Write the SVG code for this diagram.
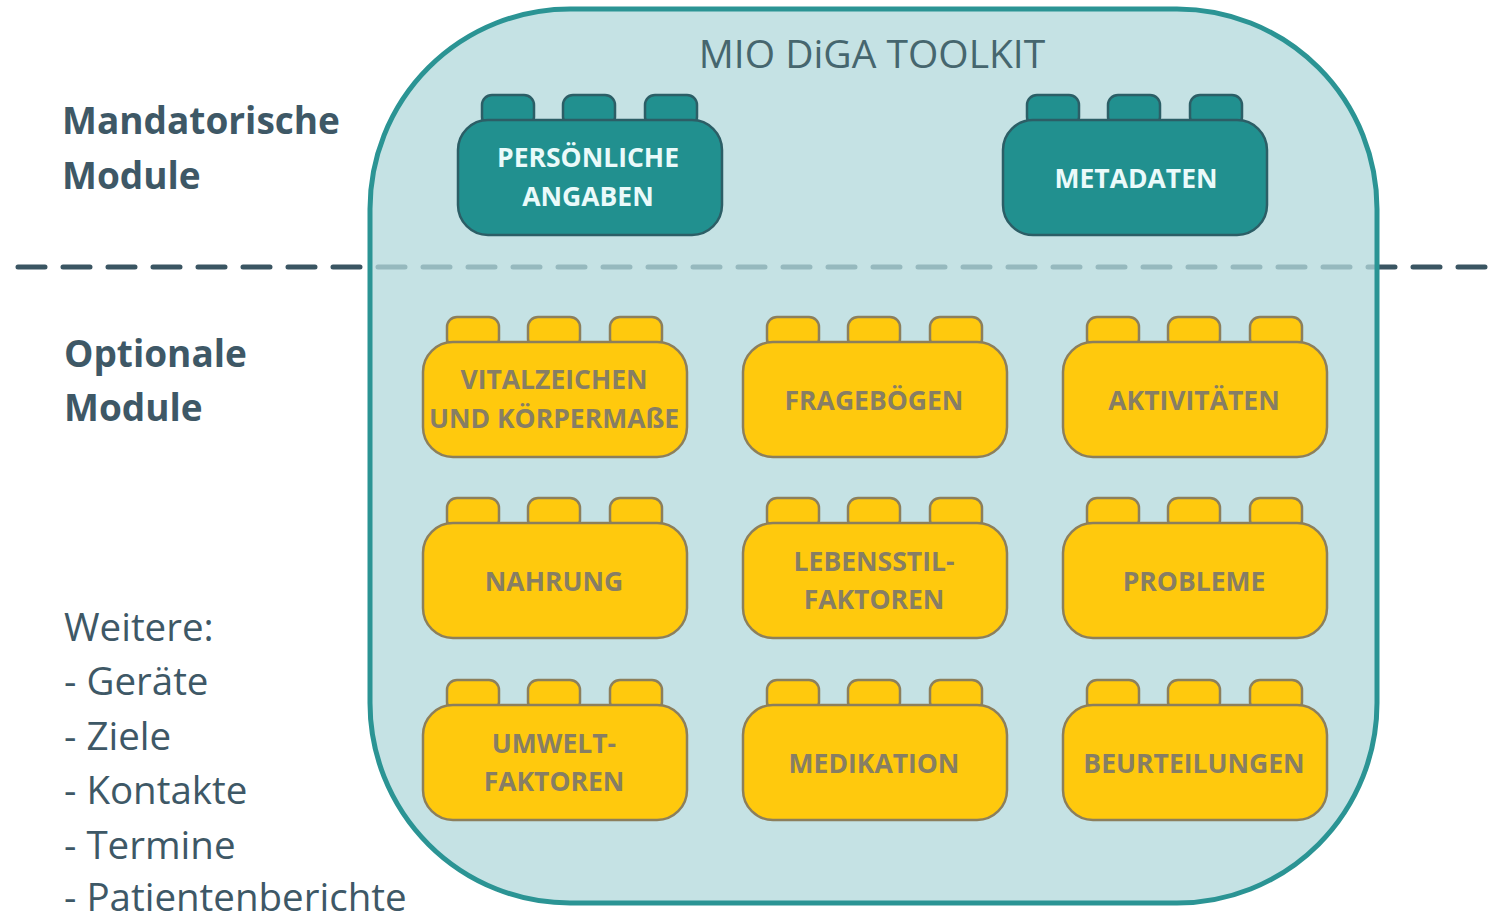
<svg xmlns="http://www.w3.org/2000/svg" xmlns:xlink="http://www.w3.org/1999/xlink" width="1491" height="917" viewBox="0 0 1491 917">
  <style>
    .lbl { font-family: "Open Sans", "Liberation Sans", sans-serif; fill: #3e5866; }
    .lbl-b { font-weight: 700; font-size: 37px; }
    .lbl-r { font-weight: 400; font-size: 38.5px; }
    .title { font-family: "Open Sans", "Liberation Sans", sans-serif; font-size: 39px; fill: #46666e; text-anchor: middle; }
    .brick-t { fill: #21908f; stroke: #2c5e66; stroke-width: 2.5; }
    .brick-y { fill: #ffc90d; stroke: #8c7f5c; stroke-width: 2.5; }
    .txt { font-family: "Open Sans", "Liberation Sans", sans-serif; font-weight: 700; font-size: 26.5px; text-anchor: middle; }
    .txt-t { fill: #eafafa; }
    .txt-y { fill: #877e64; }
    .divider { fill: none; stroke: #3a5562; stroke-width: 5; stroke-dasharray: 27 18; stroke-linecap: round; }
  </style>
  <defs>
    <!-- building block: three studs on top of a rounded body, origin at body top-left -->
    <g id="brick">
      <rect x="24" y="-25" width="52" height="32" rx="10"/>
      <rect x="105" y="-25" width="52" height="32" rx="10"/>
      <rect x="187" y="-25" width="52" height="32" rx="10"/>
      <rect x="0" y="0" width="264" height="115" rx="30"/>
    </g>
  </defs>

  <rect width="1491" height="917" fill="#ffffff"/>

  <!-- section divider between mandatory and optional modules -->
  <g id="connectors">
    <line class="divider" x1="18" y1="267" x2="1491" y2="267"/>
  </g>

  <!-- toolkit container -->
  <g id="toolkit">
    <rect x="370" y="9" width="1007" height="894" rx="200" fill="#b3d9dc" fill-opacity="0.76" stroke="#2b9494" stroke-width="5"/>
    <text class="title" x="872" y="68">MIO DiGA TOOLKIT</text>
  </g>

  <!-- side labels -->
  <g id="label-mandatory" class="lbl lbl-b">
    <text x="62" y="134">Mandatorische</text>
    <text x="62" y="189">Module</text>
  </g>
  <g id="label-optional" class="lbl lbl-b">
    <text x="64" y="367">Optionale</text>
    <text x="64" y="421">Module</text>
  </g>
  <g id="label-further" class="lbl lbl-r">
    <text x="64" y="641">Weitere:</text>
    <text x="64" y="695">- Geräte</text>
    <text x="64" y="750">- Ziele</text>
    <text x="64" y="804">- Kontakte</text>
    <text x="64" y="859">- Termine</text>
    <text x="64" y="911">- Patientenberichte</text>
  </g>

  <!-- mandatory modules -->
  <g id="persoenliche-angaben" transform="translate(458,120)">
    <use href="#brick" xlink:href="#brick" class="brick-t"/>
    <text class="txt txt-t" x="130" y="47">PERSÖNLICHE</text>
    <text class="txt txt-t" x="130" y="86">ANGABEN</text>
  </g>
  <g id="metadaten" transform="translate(1003,120)">
    <use href="#brick" xlink:href="#brick" class="brick-t"/>
    <text class="txt txt-t" x="133" y="68">METADATEN</text>
  </g>

  <!-- optional modules, row 1 -->
  <g id="vitalzeichen" transform="translate(423,342)">
    <use href="#brick" xlink:href="#brick" class="brick-y"/>
    <text class="txt txt-y" x="131" y="47">VITALZEICHEN</text>
    <text class="txt txt-y" x="131" y="86">UND KÖRPERMAßE</text>
  </g>
  <g id="frageboegen" transform="translate(743,342)">
    <use href="#brick" xlink:href="#brick" class="brick-y"/>
    <text class="txt txt-y" x="131" y="68">FRAGEBÖGEN</text>
  </g>
  <g id="aktivitaeten" transform="translate(1063,342)">
    <use href="#brick" xlink:href="#brick" class="brick-y"/>
    <text class="txt txt-y" x="131" y="68">AKTIVITÄTEN</text>
  </g>

  <!-- optional modules, row 2 -->
  <g id="nahrung" transform="translate(423,523)">
    <use href="#brick" xlink:href="#brick" class="brick-y"/>
    <text class="txt txt-y" x="131" y="68">NAHRUNG</text>
  </g>
  <g id="lebensstilfaktoren" transform="translate(743,523)">
    <use href="#brick" xlink:href="#brick" class="brick-y"/>
    <text class="txt txt-y" x="131" y="48">LEBENSSTIL-</text>
    <text class="txt txt-y" x="131" y="86">FAKTOREN</text>
  </g>
  <g id="probleme" transform="translate(1063,523)">
    <use href="#brick" xlink:href="#brick" class="brick-y"/>
    <text class="txt txt-y" x="131" y="68">PROBLEME</text>
  </g>

  <!-- optional modules, row 3 -->
  <g id="umweltfaktoren" transform="translate(423,705)">
    <use href="#brick" xlink:href="#brick" class="brick-y"/>
    <text class="txt txt-y" x="131" y="48">UMWELT-</text>
    <text class="txt txt-y" x="131" y="86">FAKTOREN</text>
  </g>
  <g id="medikation" transform="translate(743,705)">
    <use href="#brick" xlink:href="#brick" class="brick-y"/>
    <text class="txt txt-y" x="131" y="68">MEDIKATION</text>
  </g>
  <g id="beurteilungen" transform="translate(1063,705)">
    <use href="#brick" xlink:href="#brick" class="brick-y"/>
    <text class="txt txt-y" x="131" y="68">BEURTEILUNGEN</text>
  </g>
</svg>
